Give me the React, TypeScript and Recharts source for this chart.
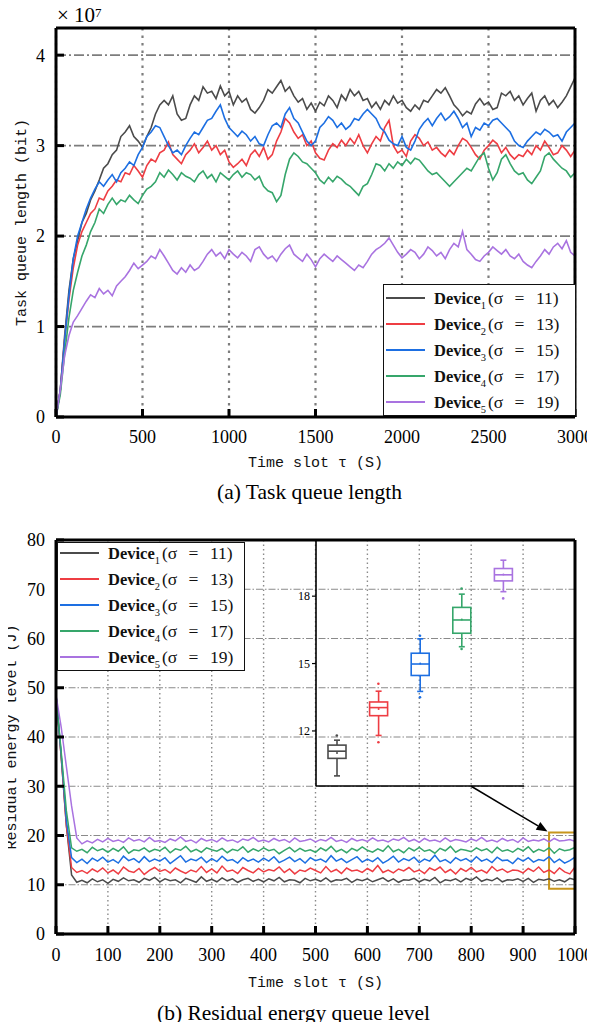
import React from "react";
import {
  Bar,
  CartesianGrid,
  ComposedChart,
  Line,
  LineChart,
  ReferenceArea,
  ReferenceLine,
  Scatter,
  XAxis,
  YAxis,
} from "recharts";

const SERIF = "'Liberation Serif', 'Times New Roman', serif";
const MONO = "'Liberation Mono', 'Courier New', monospace";

const SIGMAS = [11, 13, 15, 17, 19];
const COLORS = ["#4b4b4b", "#ee3d43", "#1d6fe2", "#36a66b", "#a973e0"];

// (a) task queue length, values in units of 1e7 bit, one value every 25 slots
const QUEUE_STEP = 25;
const queue1 = [
  0, 0.3, 0.9, 1.4, 1.75, 1.95, 2.15, 2.25, 2.4, 2.5,
  2.62, 2.75, 2.8, 2.9, 2.95, 3.1, 3.15, 3.22, 3.1, 3.05,
  2.98, 3.1, 3.2, 3.35, 3.45, 3.5, 3.45, 3.55, 3.35, 3.28,
  3.3, 3.45, 3.55, 3.5, 3.65, 3.58, 3.6, 3.52, 3.66, 3.55,
  3.6, 3.45, 3.55, 3.48, 3.52, 3.4, 3.36, 3.42, 3.5, 3.62,
  3.58, 3.65, 3.72, 3.6, 3.65, 3.55, 3.48, 3.52, 3.4, 3.47,
  3.38, 3.48, 3.44, 3.55, 3.5, 3.42, 3.56, 3.5, 3.62, 3.55,
  3.6, 3.5, 3.52, 3.42, 3.48, 3.4, 3.5, 3.45, 3.55, 3.47,
  3.5, 3.42, 3.38, 3.45, 3.4, 3.5, 3.48, 3.55, 3.62, 3.58,
  3.64, 3.55, 3.45, 3.4, 3.33, 3.38, 3.35, 3.46, 3.52, 3.45,
  3.48, 3.4, 3.42, 3.58, 3.55, 3.6, 3.5, 3.55, 3.45, 3.52,
  3.58, 3.38, 3.5, 3.55, 3.45, 3.5, 3.42, 3.48, 3.55, 3.65,
  3.75,
];
const queue2 = [
  0, 0.3, 0.85, 1.3, 1.65, 1.9, 2.05, 2.15, 2.25, 2.3,
  2.42, 2.4, 2.5, 2.55, 2.62, 2.6, 2.7, 2.68, 2.78, 2.72,
  2.65, 2.78, 2.85, 2.82, 2.92, 2.95, 3.04, 2.9, 2.85, 2.8,
  2.9, 2.95, 3.02, 2.92, 2.98, 3.05, 2.95, 3.0, 2.9, 2.95,
  2.82, 2.76, 2.8, 2.85, 2.78, 2.9, 2.95, 2.88, 2.98, 2.85,
  2.9, 3.05, 3.15, 3.3, 3.25, 3.15, 3.08, 3.12, 3.0, 3.05,
  2.92, 2.86, 2.84, 2.95, 3.02, 2.98, 3.06, 3.0, 3.08, 3.02,
  3.12, 3.0, 2.92, 3.02, 3.1, 3.05, 3.2, 3.28, 3.0, 2.92,
  2.95, 2.88, 3.05, 3.12, 3.08, 3.0, 3.04, 2.95, 2.98, 2.92,
  2.88, 2.95, 2.9, 3.0, 3.08, 3.05, 2.98, 2.9, 2.85, 2.95,
  3.0, 3.06, 3.02, 2.92, 2.98, 2.9, 2.85, 2.9, 2.88, 2.95,
  2.9, 3.0, 2.95, 3.05, 2.98, 2.9, 2.92, 3.0, 2.95, 2.88,
  2.95,
];
const queue3 = [
  0, 0.3, 0.85, 1.35, 1.75, 2.0, 2.15, 2.3, 2.42, 2.52,
  2.6, 2.55, 2.62, 2.68, 2.6, 2.7, 2.75, 2.82, 2.78, 2.9,
  2.98, 3.1, 3.15, 3.22, 3.2, 3.1, 3.0, 2.92, 2.95, 2.9,
  3.0, 3.08, 3.15, 3.12, 3.2, 3.28, 3.3, 3.38, 3.45, 3.3,
  3.2, 3.15, 3.1, 3.16, 3.12, 3.05, 3.1, 3.02, 3.0, 3.12,
  3.22, 3.25, 3.2, 3.35, 3.42, 3.3, 3.25, 3.15, 3.05, 3.0,
  3.05, 3.2, 3.25, 3.32, 3.28, 3.2, 3.25, 3.18, 3.22, 3.3,
  3.28, 3.35, 3.4, 3.35, 3.3, 3.2, 3.15, 3.06, 3.02, 3.0,
  3.1, 2.98, 2.95, 3.05, 3.18, 3.25, 3.3, 3.22, 3.3, 3.36,
  3.28, 3.32, 3.38, 3.3, 3.2, 3.25, 3.1, 3.2, 3.17, 3.25,
  3.22, 3.28, 3.3, 3.25, 3.2, 3.15, 3.05, 3.0, 2.98, 3.05,
  3.1, 3.15, 3.12, 3.18, 3.15, 3.1, 3.12, 3.05, 3.15, 3.2,
  3.25,
];
const queue4 = [
  0, 0.25, 0.7, 1.1, 1.4, 1.6, 1.78, 1.9, 2.05, 2.15,
  2.3, 2.25, 2.35, 2.42, 2.35, 2.4, 2.38, 2.45, 2.4, 2.36,
  2.45, 2.52, 2.55, 2.6, 2.7, 2.65, 2.73, 2.68, 2.62, 2.7,
  2.66, 2.64, 2.6, 2.68, 2.72, 2.64, 2.68, 2.6, 2.7, 2.66,
  2.62, 2.68, 2.72, 2.65, 2.7, 2.68, 2.62, 2.66, 2.55, 2.5,
  2.48, 2.38, 2.45, 2.68, 2.85, 2.92, 2.88, 2.82, 2.8, 2.75,
  2.7, 2.62, 2.58, 2.65, 2.6, 2.66, 2.63, 2.58, 2.55, 2.5,
  2.45, 2.55, 2.58, 2.68, 2.8, 2.78, 2.72, 2.8, 2.75, 2.82,
  2.78, 2.85, 2.8, 2.86, 2.84, 2.78, 2.72, 2.68, 2.7, 2.65,
  2.6, 2.55, 2.6, 2.65, 2.7, 2.75, 2.72, 2.8, 2.88, 2.92,
  2.75, 2.62, 2.7, 2.85, 2.9, 2.8, 2.72, 2.68, 2.7, 2.62,
  2.58, 2.65, 2.72, 2.88, 2.92, 2.85, 2.8, 2.75, 2.72, 2.65,
  2.7,
];
const queue5 = [
  0, 0.3, 0.68, 0.9, 1.05, 1.12, 1.2, 1.28, 1.35, 1.32,
  1.42, 1.36, 1.4, 1.34, 1.45, 1.5, 1.55, 1.62, 1.7, 1.64,
  1.68, 1.72, 1.78, 1.75, 1.85, 1.78, 1.7, 1.62, 1.58, 1.65,
  1.6, 1.68, 1.62, 1.65, 1.72, 1.8, 1.85, 1.78, 1.82, 1.75,
  1.85, 1.8, 1.76, 1.82, 1.78, 1.72, 1.85, 1.88, 1.8, 1.75,
  1.78, 1.72, 1.8, 1.86, 1.9, 1.8, 1.76, 1.72, 1.8, 1.74,
  1.66, 1.75, 1.8, 1.76, 1.72, 1.78, 1.74, 1.7, 1.66, 1.62,
  1.68, 1.65, 1.72, 1.8, 1.85, 1.88, 1.92, 1.98, 1.9, 1.82,
  1.76, 1.8, 1.85, 1.82, 1.75, 1.8, 1.88, 1.84, 1.78, 1.82,
  1.75, 1.85, 1.92, 1.88, 2.05, 1.85, 1.8, 1.74, 1.72, 1.78,
  1.82, 1.88, 1.84, 1.8, 1.85, 1.78, 1.75, 1.8, 1.72, 1.68,
  1.65, 1.72, 1.78, 1.85, 1.8, 1.88, 1.92, 1.86, 1.95, 1.82,
  1.78,
];
const queueTicksX = [0, 500, 1000, 1500, 2000, 2500, 3000];
const queueTicksY = [0, 1, 2, 3, 4];

// (b) residual energy queue level (J), one value every 10 slots
const ENERGY_STEP = 10;
const energy1 = [
  48.5, 36, 22, 12, 10.5, 10.9, 10.4, 11.2, 10.6, 11.0,
  10.3, 11.1, 10.7, 11.4, 10.8, 11.0, 10.5, 11.3, 10.9, 11.5,
  10.6, 11.2, 10.8, 11.0, 10.4, 11.3, 10.9, 10.5, 11.6, 10.7,
  11.1, 10.6, 11.4, 10.8, 11.2, 10.5, 11.0, 11.3, 10.7, 11.1,
  10.6, 11.2, 10.8, 11.5, 10.6, 11.0, 10.9, 10.4, 11.3, 10.8,
  11.1, 10.7, 11.4, 10.6, 11.0, 10.9, 11.3, 10.5, 11.1, 10.8,
  11.2, 10.6, 11.0, 11.4, 10.7, 11.2, 10.5, 11.0, 10.9, 11.3,
  10.6, 11.1, 10.8, 11.5, 10.4, 11.0, 10.8, 11.2, 10.6, 11.3,
  10.9, 11.6, 10.7, 11.1, 10.8, 11.4, 10.6, 11.0, 10.9, 11.2,
  10.7, 11.3, 10.5, 11.1, 10.9, 11.2, 10.7, 11.0, 10.6, 11.3,
  11.0,
];
const energy2 = [
  48.5, 36, 22, 13.5, 12.5, 12.9, 12.3, 13.2, 12.6, 13.4,
  12.4, 13.0, 12.2, 13.6, 12.8, 12.5, 13.3, 12.1, 12.9, 13.5,
  12.7, 13.1, 12.4, 13.4, 12.8, 12.3, 13.0, 12.6, 13.7, 12.5,
  13.2, 12.4, 13.8, 12.7, 13.0, 12.3, 13.5, 12.9, 12.4, 13.3,
  12.6, 13.1, 12.8, 13.6, 12.5, 13.2, 12.2, 13.0, 12.7, 13.4,
  12.9, 12.4, 13.7, 12.6, 13.1, 12.3, 13.4, 12.8, 13.0, 12.5,
  13.3, 12.7, 13.9, 12.5, 13.0, 12.4, 13.2, 12.8, 13.5, 12.6,
  13.0, 12.3, 13.4, 12.9, 13.6, 12.5, 13.1, 12.2, 13.3, 12.7,
  13.5, 12.6, 13.0, 12.4, 13.7, 12.8, 13.2, 12.5, 13.0, 12.9,
  12.4, 13.3, 12.7, 13.6, 12.5, 13.0, 12.3, 13.4, 12.6, 12.2,
  13.6,
];
const energy3 = [
  48.5, 36.5, 23, 15.5, 14.5, 15.2, 14.3, 15.4, 14.8, 15.6,
  14.6, 15.1, 14.4, 15.8, 14.9, 15.3, 14.5, 15.7, 14.7, 15.2,
  14.8, 15.5, 14.3, 15.1, 15.9, 14.6, 15.2, 14.9, 15.6, 14.5,
  15.3, 14.7, 15.8, 14.9, 15.1, 14.4, 15.5, 14.8, 15.2, 14.6,
  15.4, 14.8, 15.7, 14.5, 15.0, 15.6, 14.7, 15.3, 14.4, 15.5,
  14.9, 15.2, 14.6, 15.9, 14.8, 15.3, 14.5, 15.1, 15.7, 14.6,
  15.2, 14.7, 15.5, 14.4, 15.0, 15.8, 14.6, 15.3, 14.9, 15.6,
  14.5, 15.2, 14.8, 16.0, 14.7, 15.1, 14.4, 15.5, 14.9, 15.3,
  14.6, 15.7, 14.8, 15.2, 14.5, 15.6, 14.9, 15.0, 14.3, 15.4,
  14.8, 15.5, 14.6, 15.1, 14.9, 15.7, 14.5, 15.2, 14.4, 14.9,
  15.6,
];
const energy4 = [
  48.5, 37, 25, 17.5, 16.8, 17.2, 16.5, 17.6, 16.9, 17.3,
  16.6, 17.4, 16.8, 17.7, 16.4, 17.1, 16.9, 17.5, 16.7, 17.2,
  16.9, 17.6, 16.5, 17.3, 17.0, 17.8, 16.7, 17.2, 16.6, 17.5,
  17.1, 16.8, 17.4, 16.5, 17.2, 16.9, 17.7, 16.6, 17.3, 16.8,
  17.5, 16.9, 17.2, 16.3, 17.0, 17.6, 16.7, 17.4, 16.8, 17.1,
  16.6, 17.5, 16.9, 17.8, 16.7, 17.2, 16.5, 17.4, 16.9, 17.7,
  17.0, 16.6, 17.3, 16.8, 17.9, 16.7, 17.2, 16.5, 17.5, 16.9,
  17.6, 16.8, 17.1, 16.4, 17.4, 16.9, 17.8, 16.6, 17.2, 17.0,
  16.7, 17.5, 16.9, 17.3, 16.5, 17.6, 16.8, 17.1, 16.6, 17.4,
  16.9, 17.7, 16.6, 17.2, 16.8, 17.5, 16.4, 17.3, 16.9, 17.1,
  17.6,
];
const energy5 = [
  48.5, 42, 34, 26, 19.5, 18.3, 18.9, 18.5, 19.2, 18.7,
  19.4, 18.8, 19.1, 18.6, 19.5, 18.9, 19.2, 18.7, 19.6, 18.8,
  19.0, 18.6, 19.3, 18.9, 19.7, 18.8, 19.1, 18.5, 19.4, 18.9,
  19.2, 18.7, 19.5, 18.9, 19.1, 18.6, 19.3, 19.0, 19.6, 18.8,
  19.1, 18.7, 19.4, 18.9, 19.2, 18.6, 19.5, 18.8, 19.0, 19.3,
  18.7, 19.2, 18.9, 19.6, 18.8, 19.1, 18.6, 19.4, 18.9, 19.2,
  18.8, 19.5, 18.9, 19.1, 18.7, 19.3, 19.0, 19.6, 18.8, 19.2,
  18.6, 19.4, 18.9, 19.1, 18.7, 19.5, 18.8, 19.2, 19.0, 18.7,
  19.3, 18.9, 19.6, 18.8, 19.1, 18.7, 19.4, 18.9, 19.2, 18.6,
  19.5, 18.8, 19.1, 18.9, 19.3, 18.7, 19.4, 18.9, 19.0, 19.2,
  18.8,
];
const energyTicksX = [0, 100, 200, 300, 400, 500, 600, 700, 800, 900, 1000];
const energyTicksY = [0, 10, 20, 30, 40, 50, 60, 70, 80];

// inset: distribution of the last 50 slots per device
const boxMin = [10.0, 11.8, 13.76, 15.75, 18.2];
const boxQ1 = [10.78, 12.68, 14.47, 16.35, 18.68];
const boxMedian = [11.1, 13.04, 14.98, 16.94, 18.95];
const boxQ3 = [11.37, 13.29, 15.46, 17.5, 19.23];
const boxMax = [11.59, 13.77, 16.1, 18.09, 19.6];
const boxMean = [11.02, 12.98, 15.0, 16.96, 18.96];
const outlierDevice = [0, 1, 1, 2, 2, 3, 3, 4];
const outlierValue = [11.8, 14.1, 11.5, 16.24, 13.5, 18.34, 15.65, 17.9];
const insetTicksY = [12, 15, 18];

// zoom marker: window [950, 1000] and arrow from the inset
const zoomWindow = { x1: 950, x2: 1000, y1: 9.2, y2: 20.6 };
const arrowFrom = { x: 800, y: 30 };
const arrowTo = { x: 947, y: 20.8 };

const queueData = queue1.map((_, i) => ({
  slot: i * QUEUE_STEP,
  d1: queue1[i],
  d2: queue2[i],
  d3: queue3[i],
  d4: queue4[i],
  d5: queue5[i],
}));
const energyData = energy1.map((_, i) => ({
  slot: i * ENERGY_STEP,
  d1: energy1[i],
  d2: energy2[i],
  d3: energy3[i],
  d4: energy4[i],
  d5: energy5[i],
}));
const boxData = boxMin.map((_, i) => ({
  pos: i + 1,
  idx: i,
  min: boxMin[i],
  q1: boxQ1[i],
  median: boxMedian[i],
  q3: boxQ3[i],
  max: boxMax[i],
  mean: boxMean[i],
}));
const outlierData = outlierDevice.map((d, i) => ({ pos: d + 1, idx: d, val: outlierValue[i] }));

const KEYS = ["d1", "d2", "d3", "d4", "d5"];
const axisStroke = { stroke: "#000", strokeWidth: 3 };
const W = 595;

function DeviceLegend({ left, top, width, height, shift }: any) {
  return (
    <div
      style={{
        position: "absolute",
        left,
        top,
        width,
        height,
        boxSizing: "border-box",
        background: "#fff",
        border: "1.5px solid #111",
      }}
    >
      <div style={{ marginTop: shift }}>
        {SIGMAS.map((s, i) => (
          <div key={i} style={{ display: "flex", alignItems: "center", height: 26 }}>
            <div
              style={{ width: 39, height: 2, background: COLORS[i], marginLeft: 2, marginRight: 9, flex: "none" }}
            />
            <span style={{ fontFamily: SERIF, fontSize: 16.5, whiteSpace: "nowrap", color: "#111" }}>
              <b>Device</b>
              <span style={{ fontSize: 10.5, position: "relative", top: 5, marginRight: 2 }}>{i + 1}</span>
              <span style={{ fontSize: 17.5, wordSpacing: 7 }}>(σ = {s})</span>
            </span>
          </div>
        ))}
      </div>
    </div>
  );
}

function ArrowShape(props: any) {
  const { x1, y1, x2, y2 } = props;
  const ang = Math.atan2(y2 - y1, x2 - x1);
  const len = 11;
  const w = 4.5;
  const bx = x2 - len * Math.cos(ang);
  const by = y2 - len * Math.sin(ang);
  const p1 = `${bx + w * Math.sin(ang)},${by - w * Math.cos(ang)}`;
  const p2 = `${bx - w * Math.sin(ang)},${by + w * Math.cos(ang)}`;
  return (
    <g>
      <line x1={x1} y1={y1} x2={bx} y2={by} stroke="#000" strokeWidth={1.5} />
      <polygon points={`${x2},${y2} ${p1} ${p2}`} fill="#000" />
    </g>
  );
}

function BoxShape(props: any) {
  const { x, y, width, height, payload } = props;
  if (!payload) return null;
  const top = Math.min(y, y + height);
  const h = Math.abs(height);
  const span = payload.max - payload.min;
  const py = (v: number) => top + ((payload.max - v) / span) * h;
  const cx = x + width / 2;
  const c = COLORS[payload.idx];
  const cap = 3;
  return (
    <g stroke={c} strokeWidth={1.6} fill="none">
      <line x1={cx} y1={py(payload.max)} x2={cx} y2={py(payload.q3)} />
      <line x1={cx} y1={py(payload.q1)} x2={cx} y2={py(payload.min)} />
      <line x1={cx - cap} y1={py(payload.max)} x2={cx + cap} y2={py(payload.max)} />
      <line x1={cx - cap} y1={py(payload.min)} x2={cx + cap} y2={py(payload.min)} />
      <rect x={x} y={py(payload.q3)} width={width} height={py(payload.q1) - py(payload.q3)} fill="#fff" />
      <line x1={x} y1={py(payload.median)} x2={x + width} y2={py(payload.median)} />
      <circle cx={cx} cy={py(payload.mean)} r={1} fill={c} stroke="none" />
    </g>
  );
}

function OutlierDot(props: any) {
  const { cx, cy, payload } = props;
  return <circle cx={cx} cy={cy} r={1.3} fill={COLORS[payload.idx]} />;
}

function rotatedTitle(text: string, cx: number) {
  return ({ viewBox }: any) => {
    const cy = viewBox.y + viewBox.height / 2;
    return (
      <text
        x={cx}
        y={cy}
        transform={`rotate(-90, ${cx}, ${cy})`}
        textAnchor="middle"
        dominantBaseline="central"
        fontFamily={MONO}
        fontSize={15}
        fill="#111"
      >
        {text}
      </text>
    );
  };
}

function bottomTitle(text: string, dy: number) {
  return ({ viewBox }: any) => (
    <text
      x={viewBox.x + viewBox.width / 2}
      y={viewBox.y + dy}
      textAnchor="middle"
      dominantBaseline="central"
      fontFamily={MONO}
      fontSize={15}
      fill="#111"
    >
      {text}
    </text>
  );
}

function Caption({ text, top, dx }: { text: string; top: number; dx: number }) {
  return (
    <div
      style={{
        position: "absolute",
        left: dx,
        top,
        width: W,
        textAlign: "center",
        fontFamily: SERIF,
        fontSize: 21.5,
        lineHeight: "22px",
      }}
    >
      {text}
    </div>
  );
}

function QueueChart() {
  return (
    <div style={{ position: "relative", width: W, height: 507 }}>
      <LineChart width={W} height={470} data={queueData} margin={{ top: 16, right: 16, bottom: 0, left: 8 }}>
        <CartesianGrid vertical={false} stroke="#7d7d7d" strokeWidth={1.8} strokeDasharray="10 3 2 3" />
        <CartesianGrid horizontal={false} stroke="#7d7d7d" strokeWidth={2.2} strokeDasharray="2.5 5" />
        {KEYS.map((k, i) => (
          <Line key={k} dataKey={k} stroke={COLORS[i]} strokeWidth={1.6} dot={false} isAnimationActive={false} />
        ))}
        <XAxis
          dataKey="slot"
          type="number"
          domain={[0, 3000]}
          ticks={queueTicksX}
          height={61}
          axisLine={axisStroke}
          tickLine={axisStroke}
          tickSize={-8}
          tickMargin={21}
          tick={{ fontSize: 18, fill: "#000", fontFamily: SERIF }}
          label={{ content: bottomTitle("Time slot τ (S)", 46) }}
        />
        <XAxis
          xAxisId="top"
          orientation="top"
          type="number"
          domain={[0, 3000]}
          ticks={queueTicksX}
          height={4}
          axisLine={axisStroke}
          tickLine={axisStroke}
          tickSize={8}
          tick={false}
        />
        <YAxis
          type="number"
          domain={[0, 4.3]}
          ticks={queueTicksY}
          width={48}
          axisLine={axisStroke}
          tickLine={axisStroke}
          tickSize={-8}
          tickMargin={19}
          tick={{ fontSize: 18, fill: "#000", fontFamily: SERIF }}
          label={{ content: rotatedTitle("Task queue length (bit)", 22) }}
        />
        <YAxis
          yAxisId="right"
          orientation="right"
          type="number"
          domain={[0, 4.3]}
          ticks={queueTicksY}
          width={4}
          axisLine={axisStroke}
          tickLine={axisStroke}
          tickSize={8}
          tick={false}
        />
      </LineChart>
      <div style={{ position: "absolute", left: 57, top: -4, fontFamily: SERIF, fontSize: 21, lineHeight: "22px" }}>
        × 10<span style={{ fontSize: 13, position: "relative", top: -5 }}>7</span>
      </div>
      <DeviceLegend left={383} top={276} width={193} height={132} shift={0} />
      <Caption text="(a) Task queue length" top={473} dx={12} />
    </div>
  );
}

function EnergyChart() {
  return (
    <div style={{ position: "relative", width: W, height: 507 }}>
      <LineChart width={W} height={480} data={energyData} margin={{ top: 21, right: 16, bottom: 0, left: 8 }}>
        <CartesianGrid vertical={false} stroke="#8a8a8a" strokeWidth={1.1} strokeDasharray="7 2 1.5 2" />
        <CartesianGrid horizontal={false} stroke="#8a8a8a" strokeWidth={1.4} strokeDasharray="1.5 3" />
        {KEYS.map((k, i) => (
          <Line key={k} dataKey={k} stroke={COLORS[i]} strokeWidth={1.5} dot={false} isAnimationActive={false} />
        ))}
        <ReferenceArea
          x1={zoomWindow.x1}
          x2={zoomWindow.x2}
          y1={zoomWindow.y1}
          y2={zoomWindow.y2}
          fill="none"
          fillOpacity={0}
          stroke="#c8951c"
          strokeWidth={2}
          ifOverflow="visible"
        />
        <ReferenceLine segment={[arrowFrom, arrowTo]} shape={ArrowShape} ifOverflow="visible" />
        <XAxis
          dataKey="slot"
          type="number"
          domain={[0, 1000]}
          ticks={energyTicksX}
          height={61}
          axisLine={axisStroke}
          tickLine={axisStroke}
          tickSize={-8}
          tickMargin={22}
          tick={{ fontSize: 18, fill: "#000", fontFamily: SERIF }}
          label={{ content: bottomTitle("Time slot τ (S)", 49) }}
        />
        <XAxis
          xAxisId="top"
          orientation="top"
          type="number"
          domain={[0, 1000]}
          ticks={energyTicksX}
          height={4}
          axisLine={axisStroke}
          tickLine={axisStroke}
          tickSize={8}
          tick={false}
        />
        <YAxis
          type="number"
          domain={[0, 80]}
          ticks={energyTicksY}
          width={48}
          axisLine={axisStroke}
          tickLine={axisStroke}
          tickSize={-8}
          tickMargin={19}
          tick={{ fontSize: 18, fill: "#000", fontFamily: SERIF }}
          label={{ content: rotatedTitle("Residual energy level (J)", 12) }}
        />
        <YAxis
          yAxisId="right"
          orientation="right"
          type="number"
          domain={[0, 80]}
          ticks={energyTicksY}
          width={4}
          axisLine={axisStroke}
          tickLine={axisStroke}
          tickSize={8}
          tick={false}
        />
      </LineChart>
      <div style={{ position: "absolute", left: 286, top: 25 }}>
        <ComposedChart width={238} height={247} data={boxData} margin={{ top: 0, right: 0, bottom: 0, left: 0 }}>
          <XAxis
            dataKey="pos"
            type="number"
            domain={[0.5, 5.5]}
            height={1}
            tick={false}
            tickLine={false}
            axisLine={{ stroke: "#000", strokeWidth: 1.6 }}
          />
          <YAxis
            type="number"
            domain={[9.55, 20.5]}
            ticks={insetTicksY}
            width={30}
            axisLine={{ stroke: "#000", strokeWidth: 1.6 }}
            tickLine={{ stroke: "#000", strokeWidth: 1.2 }}
            tickSize={4}
            tickMargin={2}
            tick={{ fontSize: 12, fill: "#000", fontFamily: SERIF }}
          />
          <Bar
            dataKey={(d: any) => [d.min, d.max]}
            barSize={18}
            shape={BoxShape}
            isAnimationActive={false}
          />
          <Scatter data={outlierData} dataKey="val" shape={OutlierDot} isAnimationActive={false} />
        </ComposedChart>
      </div>
      <DeviceLegend left={57} top={27} width={188} height={129} shift={-3} />
      <Caption text="(b) Residual energy queue level" top={487} dx={-4} />
    </div>
  );
}

export default function App() {
  return (
    <div style={{ width: W, height: 1014, marginLeft: -8, background: "#fff" }}>
      <QueueChart />
      <EnergyChart />
    </div>
  );
}
